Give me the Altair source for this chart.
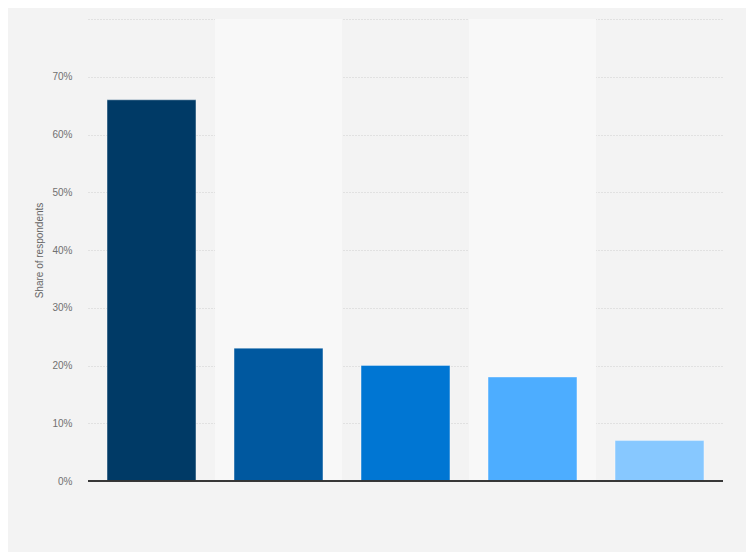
import altair as alt
import pandas as pd

categories = ["A", "B", "C", "D", "E"]
values = [66, 23, 20, 18, 7]
colors = ["#003a66", "#00589f", "#0076d3", "#4dadff", "#87c8ff"]
band_cats = ["B", "D"]

df = pd.DataFrame({"cat": categories, "value": values, "color": colors})
bands = pd.DataFrame({"cat": band_cats, "top": [80, 80]})

xscale = alt.Scale(domain=categories, paddingInner=0.3, paddingOuter=0.15)
yscale = alt.Scale(domain=[0, 80], nice=False)

yaxis = alt.Axis(
    values=[0, 10, 20, 30, 40, 50, 60, 70, 80],
    labelExpr="datum.value >= 80 ? '' : datum.value + '%'",
    title="Share of respondents",
    titleFont="Liberation Sans",
    titleFontSize=10,
    titleFontWeight="normal",
    titleColor="#666666",
    titlePadding=7,
    labelFont="Liberation Sans",
    labelFontSize=10,
    labelColor="#707070",
    labelPadding=16,
    domain=False,
    ticks=False,
    grid=True,
    gridColor="#cfcfcf",
    gridDash=[1, 2],
    gridWidth=1,
)

bg = alt.Chart(bands).mark_bar(color="#f8f8f8", width=alt.RelativeBandSize(1 / 0.7)).encode(
    x=alt.X("cat:N", scale=xscale, axis=None),
    y=alt.Y("top:Q", scale=yscale, axis=yaxis),
)

bars = alt.Chart(df).mark_bar(strokeWidth=1, stroke="#ffffff", strokeOpacity=0.35).encode(
    x=alt.X("cat:N", scale=xscale, axis=None),
    y=alt.Y("value:Q", scale=yscale, axis=yaxis),
    color=alt.Color("cat:N", scale=alt.Scale(domain=categories, range=colors), legend=None),
)

baseline = alt.Chart(df).mark_rule(color="#333333", strokeWidth=1.2).encode(
    y=alt.datum(0, scale=yscale),
)

chart = (
    alt.layer(bg, bars, baseline)
    .properties(
        width=635,
        height=462,
        background="#f3f3f3",
        padding={"left": 80, "top": 11, "right": 23, "bottom": 71},
        autosize=alt.AutoSizeParams(type="none"),
    )
    .configure_view(stroke=None)
)

chart.save("out.html", embed_options={"renderer": "svg", "actions": False})
